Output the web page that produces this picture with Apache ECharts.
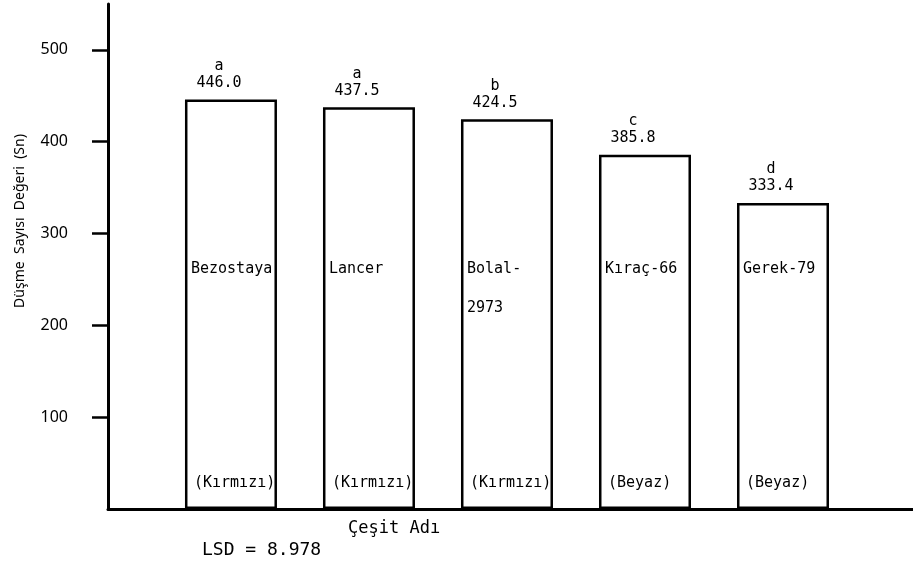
<!DOCTYPE html>
<html>
<head>
<meta charset="utf-8">
<script src="https://cdn.jsdelivr.net/npm/echarts@6/dist/echarts.min.js"></script>
<style>
html,body{margin:0;padding:0;background:#fff;}
#chart{width:913px;height:567px;}
</style>
</head>
<body>
<div id="chart"></div>
<script>
// ---- data ----
const categories = ['Bezostaya', 'Lancer', 'Bolal-\n2973', 'Kıraç-66', 'Gerek-79'];
const colourNames = ['(Kırmızı)', '(Kırmızı)', '(Kırmızı)', '(Beyaz)', '(Beyaz)'];
const values = [446.0, 437.5, 424.5, 385.8, 333.4];
const letters = ['a', 'a', 'b', 'c', 'd'];
const nameLevel = 262;     // y value where variety names are written
const colourLevel = 28;    // y value where colour notes are written
const yTitle = 'Düşme  Sayısı  Değeri  (Sn)';
const xTitle = 'Çeşit Adı';
const lsdText = 'LSD = 8.978';

const MONO = '"DejaVu Sans Mono", "Liberation Mono", monospace';
const SANS = '"Noto Sans", "DejaVu Sans", sans-serif';

const chart = echarts.init(document.getElementById('chart'), null, {renderer: 'canvas'});

const barData = values.map((v, i) => [i + 1, v]);
const nameData = categories.map((c, i) => ({value: [i + 1, nameLevel], name: c}));
const colourData = colourNames.map((c, i) => ({value: [i + 1, colourLevel], name: c}));

const innerLabel = {
  show: true,
  position: 'inside',
  align: 'left',
  formatter: p => p.name,
  fontFamily: MONO, fontSize: 15, color: '#000',
  textBorderWidth: 0, textBorderColor: 'transparent'
};

const option = {
  backgroundColor: '#fff',
  animation: false,
  grid: {left: 108, right: 0, top: 4, bottom: 58},
  xAxis: {
    type: 'value',
    min: 0.109,
    max: 5.942,
    axisLine: {show: true, onZero: false, lineStyle: {color: '#000', width: 3}},
    axisTick: {show: false},
    axisLabel: {show: false},
    splitLine: {show: false}
  },
  yAxis: {
    type: 'value',
    min: 0,
    max: 550,
    interval: 100,
    axisLine: {show: true, lineStyle: {color: '#000', width: 3}},
    axisTick: {show: true, length: 16, lineStyle: {color: '#000', width: 2.5}},
    axisLabel: {
      show: true, margin: 40, color: '#000', fontSize: 16, fontFamily: SANS,
      showMinLabel: false, showMaxLabel: false,
      formatter: v => (v > 0 && v <= 500 ? String(v) : '')
    },
    splitLine: {show: false}
  },
  series: [
    {
      type: 'bar',
      data: barData,
      barWidth: 92,
      itemStyle: {color: '#fff', borderColor: '#000', borderWidth: 2.5},
      label: {
        show: true,
        position: 'top',
        distance: 8,
        offset: [-12, 0],
        formatter: p => '{l|' + letters[p.dataIndex] + '}\n{v|' + values[p.dataIndex].toFixed(1) + '}',
        rich: {
          l: {fontFamily: MONO, fontSize: 15, color: '#000', lineHeight: 17},
          v: {fontFamily: MONO, fontSize: 15, color: '#000', lineHeight: 17}
        }
      },
      z: 2
    },
    {
      type: 'scatter',
      data: nameData,
      symbolSize: 0,
      silent: true,
      itemStyle: {color: '#000', opacity: 1},
      label: Object.assign({}, innerLabel, {verticalAlign: 'top', offset: [-40, -19], lineHeight: 39}),
      z: 3
    },
    {
      type: 'scatter',
      data: colourData,
      symbolSize: 0,
      silent: true,
      itemStyle: {color: '#000', opacity: 1},
      label: Object.assign({}, innerLabel, {verticalAlign: 'middle', offset: [-37, 0]}),
      z: 3
    }
  ],
  graphic: [
    {type: 'text', x: 20, y: 221, rotation: Math.PI / 2,
     style: {text: yTitle, font: '14px ' + SANS, fill: '#000', textAlign: 'center', textVerticalAlign: 'middle'}},
    {type: 'text', left: 348, top: 520, style: {text: xTitle, font: '17px ' + MONO, fill: '#000'}},
    {type: 'text', left: 202, top: 541, style: {text: lsdText, font: '18px ' + MONO, fill: '#000'}}
  ]
};
chart.setOption(option);
</script>
</body>
</html>
